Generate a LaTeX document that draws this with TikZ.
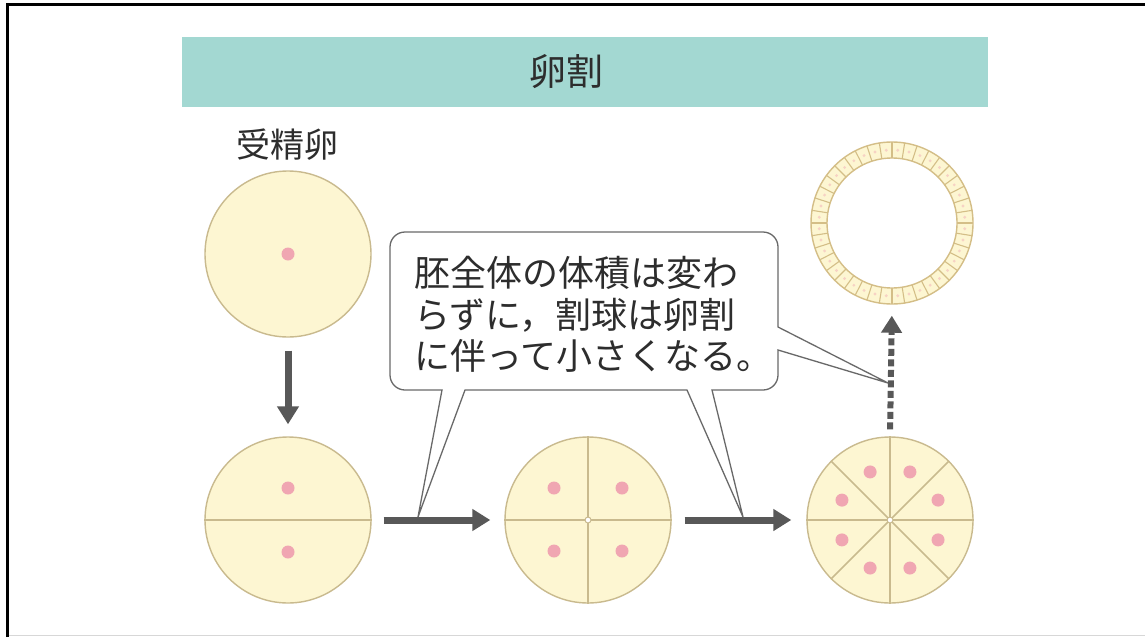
\documentclass[tikz,border=0pt]{standalone}
\usepackage{fontspec}
\newfontfamily\jp{Noto Sans CJK JP}
\usetikzlibrary{arrows.meta,calc}
\definecolor{band}{RGB}{163,216,210}
\definecolor{yolk}{RGB}{253,246,210}
\definecolor{rim}{RGB}{201,186,142}
\definecolor{ringrim}{RGB}{212,190,135}
\definecolor{nuc}{RGB}{240,166,178}
\definecolor{arr}{RGB}{88,88,88}
\definecolor{ink}{RGB}{45,45,45}
\definecolor{frameline}{RGB}{215,215,215}
\begin{document}
\begin{tikzpicture}[x=1pt,y=-1pt,
  egg/.style={circle,draw=rim,fill=yolk,line width=1.4pt,minimum size=166pt,inner sep=0pt},
  split/.style={draw=rim,line width=1.6pt},
  hub/.style={circle,draw=rim,fill=white,line width=1pt,minimum size=6pt,inner sep=0pt},
  nucleus/.style={fill=nuc},
  flow/.style={draw=arr,line width=7pt,-{Triangle[length=18pt,width=21pt]}},
  dflow/.style={draw=arr,line width=6pt,dash pattern=on 7pt off 3.5pt,-{Triangle[length=17pt,width=20pt]}},
  label/.style={text=ink,inner sep=0pt,font=\jp\fontsize{34pt}{40pt}\selectfont},
  bubble/.style={draw=arr!90,fill=white,line width=1.3pt}
]
\useasboundingbox (0,0) rectangle (1145,637);
\fill[white] (0,0) rectangle (1145,637);
% page frame
\draw[frameline,line width=1.2pt] (7,635.5) -- (1145,635.5);
\draw[black,line width=3pt] (7,637) -- (7,4) -- (1145,4);

% title band
\node[fill=band,minimum width=806pt,minimum height=70pt,inner sep=0pt] (band) at (585,72) {};
\node[label,font=\jp\fontsize{37pt}{40pt}\selectfont] (title) at (566,72) {卵割};
\node[label] (zyg) at (287,145) {受精卵};

% eggs
\node[egg] (egg1) at (288,254) {};
\node[egg] (egg2) at (288,520) {};
\node[egg] (egg3) at (588,520) {};
\node[egg] (egg4) at (890,520) {};

% cleavage furrows
\draw[split] (egg2.west) -- (egg2.east);
\draw[split] (egg3.west) -- (egg3.east);
\draw[split] (egg3.north) -- (egg3.south);
\foreach \a in {0,45,...,315} \draw[split] (egg4.center) -- (egg4.\a);
\node[hub] (hub3) at (egg3.center) {};
\node[hub] (hub4) at (egg4.center) {};

% nuclei
\fill[nucleus] (egg1.center) circle (6.5);
\fill[nucleus] ($(egg2.center)+(0,-32)$) circle (6.5);
\fill[nucleus] ($(egg2.center)+(0,32)$) circle (6.5);
\foreach \dx/\dy in {-34/-32,34/-32,-34/31,34/31}
  \fill[nucleus] ($(egg3.center)+(\dx,\dy)$) circle (6.5);
\foreach \a in {22.5,67.5,...,337.5}
  \fill[nucleus] ($(egg4.center)+(\a:52)$) circle (6.5);

% blastula
\node[circle,draw=ringrim,fill=yolk,line width=1.4pt,minimum size=162pt,inner sep=0pt] (blast) at (892,223) {};
\node[circle,draw=ringrim,fill=white,line width=1.4pt,minimum size=130pt,inner sep=0pt] (cavity) at (892,223) {};
\foreach \a in {0,9,...,351} {
  \draw[ringrim,line width=1.1pt] ($(blast.center)+(\a:65)$) -- ($(blast.center)+(\a:81)$);
  \fill[nuc!45!yolk] ($(blast.center)+(\a+4.5:73)$) circle (1.6);
}

% arrows
\draw[flow,shorten <=13pt,shorten >=12pt] (egg1.south) -- (egg2.north);
\draw[flow,shorten <=12pt,shorten >=14pt] (egg2.east) -- (egg3.west);
\draw[flow,shorten <=13pt,shorten >=15pt] (egg3.east) -- (egg4.west);
\draw[dflow,shorten <=7pt,shorten >=11pt] (egg4.north) -- (blast.south);

% speech bubble with three tails
\coordinate (t1) at (418,517);
\coordinate (t2) at (743,517);
\coordinate (t3) at (888,383);
\draw[bubble] (390,310) [rounded corners=15pt] -- (390,232) -- (778,232) -- (778,300) [sharp corners] -- (778,327) -- (t3) -- (778,350) [rounded corners=15pt] -- (778,390) -- (740,390) [sharp corners] -- (712,390) -- (t2) -- (687,390) -- (465,390) -- (t1) -- (442,390) [rounded corners=15pt] -- (390,390) -- cycle;
\node[label,font=\jp\fontsize{36pt}{41.5pt}\selectfont,align=left,anchor=north west] (note) at (414,256)
  {胚全体の体積は変わ\\らずに，割球は卵割\\に伴って小さくなる。};
\end{tikzpicture}
\end{document}
